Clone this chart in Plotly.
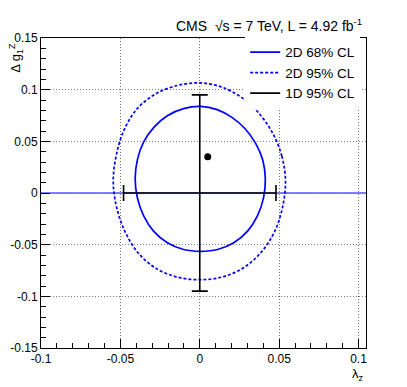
"""
CMS aTGC limits: 2D contours in the (lambda_z, delta g1Z) plane.
"""

import plotly.graph_objects as go

FONT = "Liberation Sans, Arial, sans-serif"
BLUE = "#0000ff"

# 2D 68% CL contour (counter-clockwise from the right)
C68_X = [0.0413, 0.0397, 0.0352, 0.0287, 0.0205, 0.0110, 0.0005, -0.0102,
         -0.0202, -0.0288, -0.0354, -0.0393, -0.0407, -0.0393, -0.0354, -0.0291,
         -0.0204, -0.0102, 0.0005, 0.0112, 0.0214, 0.0301, 0.0364, 0.0402, 0.0413]
C68_Y = [0.0137, 0.0317, 0.0480, 0.0619, 0.0729, 0.0807, 0.0838, 0.0817,
         0.0750, 0.0638, 0.0492, 0.0320, 0.0137, -0.0046, -0.0218, -0.0369,
         -0.0482, -0.0547, -0.0564, -0.0547, -0.0482, -0.0369, -0.0218, -0.0045, 0.0137]

# 2D 95% CL contour
C95_X = [0.0540, 0.0517, 0.0459, 0.0374, 0.0267, 0.0141, 0.0003, -0.0137,
         -0.0274, -0.0394, -0.0478, -0.0526, -0.0545, -0.0524, -0.0471, -0.0388,
         -0.0273, -0.0137, 0.0003, 0.0143, 0.0276, 0.0389, 0.0473, 0.0522, 0.0540]
C95_Y = [0.0113, 0.0357, 0.0579, 0.0769, 0.0921, 0.1024, 0.1065, 0.1042,
         0.0962, 0.0816, 0.0606, 0.0364, 0.0113, -0.0137, -0.0373, -0.0580,
         -0.0732, -0.0816, -0.0839, -0.0812, -0.0723, -0.0570, -0.0368, -0.0133, 0.0113]

# 1D 95% CL intervals around the SM point
SM_POINT = [0.0, 0.0]
LZ_LOW, LZ_HIGH = -0.048, 0.048
DG_LOW, DG_HIGH = -0.095, 0.095

# best fit
BEST_X = [0.005]
BEST_Y = [0.035]

X_RANGE = [-0.1, 0.1047]
Y_RANGE = [-0.15, 0.15]
X_TICKS = [-0.1, -0.05, 0, 0.05, 0.1]
X_TICK_TEXT = ["-0.1", "-0.05", "0", "0.05", "0.1"]
Y_TICKS = [-0.15, -0.1, -0.05, 0, 0.05, 0.1, 0.15]
Y_TICK_TEXT = ["-0.15", "-0.1", "-0.05", "0", "0.05", "0.1", "0.15"]


fig = go.Figure()

fig.add_hline(y=0, line=dict(color=BLUE, width=1), layer="below")

fig.add_trace(go.Scatter(
    x=C68_X, y=C68_Y, mode="lines", name="2D 68% CL",
    line=dict(color=BLUE, width=1.7, shape="spline", smoothing=1),
))
fig.add_trace(go.Scatter(
    x=C95_X, y=C95_Y, mode="lines", name="2D 95% CL",
    line=dict(color=BLUE, width=1.7, dash="3px,2px", shape="spline", smoothing=1),
))

# 1D intervals drawn as error bars on the SM point
fig.add_trace(go.Scatter(
    x=[SM_POINT[0]], y=[SM_POINT[1]], mode="markers",
    marker=dict(size=1, color="rgba(0,0,0,0)"),
    error_x=dict(type="data", symmetric=False,
                 array=[LZ_HIGH - SM_POINT[0]], arrayminus=[SM_POINT[0] - LZ_LOW],
                 color="black", thickness=1.6, width=8),
    error_y=dict(type="data", symmetric=False,
                 array=[DG_HIGH - SM_POINT[1]], arrayminus=[SM_POINT[1] - DG_LOW],
                 color="black", thickness=1.6, width=8),
    showlegend=False, hoverinfo="skip",
))
fig.add_trace(go.Scatter(
    x=[None], y=[None], mode="lines", name="1D 95% CL",
    line=dict(color="black", width=1.6),
))

fig.add_trace(go.Scatter(
    x=BEST_X, y=BEST_Y, mode="markers", showlegend=False,
    marker=dict(size=7, color="black"),
))

axis_style = dict(
    showline=True, linecolor="black", linewidth=1, mirror=True,
    ticks="inside", ticklen=9, tickwidth=1, tickcolor="black",
    showgrid=True, gridcolor="#777777", griddash="1px,2px", gridwidth=1,
    zeroline=False, automargin=False,
    tickfont=dict(family=FONT, size=12, color="black"),
    minor=dict(ticks="inside", ticklen=5, tickwidth=1, tickcolor="black",
               dtick=0.01, showgrid=False),
)

fig.update_xaxes(range=X_RANGE, tickvals=X_TICKS, ticktext=X_TICK_TEXT,
                 **axis_style)
fig.update_yaxes(range=Y_RANGE, tickvals=Y_TICKS, ticktext=Y_TICK_TEXT,
                 **axis_style)

# the page body adds an 8px margin, so the paper is 8px smaller than the window
fig.update_layout(
    width=399,
    height=379,
    margin=dict(l=33, r=41, t=30, b=39),
    plot_bgcolor="white",
    paper_bgcolor="white",
    font=dict(family=FONT, size=14, color="black"),
    showlegend=True,
    legend=dict(
        x=0.982, y=1.004, xanchor="right", yanchor="top",
        bgcolor="white", borderwidth=0,
        font=dict(family=FONT, size=13.5, color="black"),
        tracegroupgap=0,
    ),
    annotations=[
        dict(text="CMS  √s = 7 TeV, L = 4.92 fb<sup>-1</sup>",
             xref="paper", yref="paper", x=0.994, y=1.006,
             xanchor="right", yanchor="bottom", showarrow=False,
             font=dict(family=FONT, size=14, color="black")),
        dict(text="Δ g<sub>1</sub><sup>Z</sup>",
             xref="paper", yref="paper", x=-0.078, y=0.99,
             xanchor="center", yanchor="top", textangle=-90, showarrow=False,
             font=dict(family=FONT, size=13, color="black")),
        dict(text="λ<sub>z</sub>",
             xref="paper", yref="paper", x=1.0, y=-0.053,
             xanchor="right", yanchor="top", showarrow=False,
             font=dict(family=FONT, size=13, color="black")),
    ],
)

fig.write_html("out.html")
